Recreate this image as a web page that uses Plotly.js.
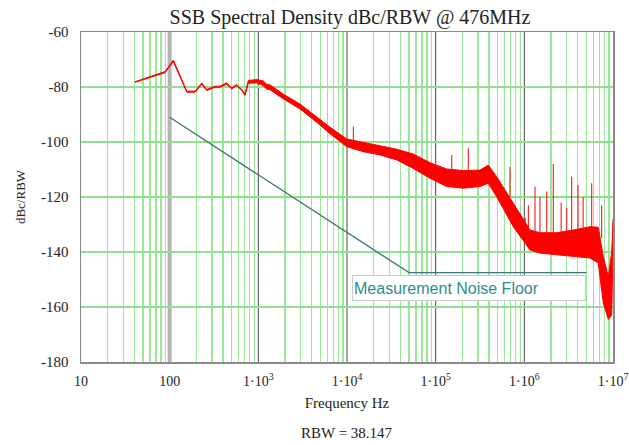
<!DOCTYPE html>
<html>
<head>
<meta charset="utf-8">
<script src="https://cdn.plot.ly/plotly-3.0.1.min.js"></script>
<style>
html,body{margin:0;padding:0;background:#fff;}
#chart{width:629px;height:445px;}
</style>
</head>
<body>
<div id="chart"></div>
<script>
// Measured phase-noise band (upper / lower envelope), Hz and dBc/RBW
const freq = [40.6, 60, 88.5, 110, 156, 193, 230, 262, 325, 370, 440, 501, 570, 649, 708, 771, 842, 959,
  1138, 1242, 1352, 1914, 2951, 4550, 6430, 9930, 15280, 23560, 36310, 55950, 86260,
  1.33e5, 2.05e5, 3.16e5, 3.92e5, 4.87e5, 7.5e5, 1.16e6, 1.5e6, 2.32e6, 3.57e6, 5.5e6,
  6.82e6, 7.78e6, 8.85e6, 9.67e6, 1e7];
const upperDb = [-78.1, -76.2, -74.4, -70.2, -81.5, -81.5, -78.5, -80.9, -79.7, -79.7, -78.5, -80.3, -79.1, -80.9, -82.5, -77.6, -77.4, -77.3,
  -77.8, -79.0, -79.2, -82.6, -86.2, -91.0, -94.6, -98.9, -100.2, -101.3, -102.6, -104.4, -107.5,
  -109.8, -110.4, -110.2, -108.4, -112.6, -122.2, -132, -133, -133, -132, -130.8,
  -131, -141.7, -149, -140, -128];
const lowerDb = [-78.3, -76.6, -74.8, -70.8, -81.9, -81.9, -79, -81.3, -80.1, -80.1, -79, -80.7, -79.5, -81.3, -83.1, -78.6, -78.5, -78.5,
  -79.5, -80.8, -81, -84.3, -88, -92.8, -97, -101.7, -103.5, -104.7, -106.5, -109.6, -113.2,
  -116.2, -116.8, -116.2, -115, -119.9, -130.8, -139.3, -140.4, -141, -141.7, -142.2,
  -144, -158.6, -164.5, -163, -140];

// Narrow spurs rising above the band
const spikeFreq = [11780, 1.52e5, 2.33e5, 6.89e5, 1.02e6, 1.11e6, 1.32e6, 1.5e6, 1.79e6, 2.12e6, 2.6e6, 3.01e6, 3.42e6, 4.03e6, 4.6e6, 5.75e6, 7.45e6];
const spikeBaseDb = [-99.5, -110, -110.2, -120, -131, -131.5, -132.5, -133, -133, -133, -132.8, -132.5, -132, -131.5, -131.2, -131, -135];
const spikeTopDb = [-94.4, -104.7, -102.2, -109, -127.6, -123, -116.2, -120, -118, -108, -122, -124, -112.6, -115.6, -120, -115, -123];

// Measurement noise floor
const floorFreq = [100, 5e4, 5e6];
const floorDb = [-91, -147.5, -147.5];

// Axis ticks
const xTickVals = [10, 100, 1e3, 1e4, 1e5, 1e6, 1e7];
const xTickText = ['10', '100', '1·10<sup>3</sup>', '1·10<sup>4</sup>', '1·10<sup>5</sup>', '1·10<sup>6</sup>', '1·10<sup>7</sup>'];
const yTickVals = [-60, -80, -100, -120, -140, -160, -180];
const yTickText = ['-60', '-80', '-100', '-120', '-140', '-160', '-180'];

const rbwText = 'RBW = 38.147';
const noteText = 'Measurement Noise Floor';

// minor grid positions (2..9 of each decade)
const minorVals = [];
for (let d = 1; d < 7; d++) for (let k = 2; k <= 9; k++) minorVals.push(k * Math.pow(10, d));

// spur segments
const sx = [], sy = [];
spikeFreq.forEach((f, i) => { sx.push(f, f, null); sy.push(spikeBaseDb[i], spikeTopDb[i], null); });

const red = '#ff0000';
const traces = [
  {x: floorFreq, y: floorDb, mode: 'lines', line: {color: '#3d7878', width: 1.4}, hoverinfo: 'skip'},
  {x: freq, y: lowerDb, mode: 'lines', line: {color: red, width: 1}, hoverinfo: 'skip'},
  {x: freq, y: upperDb, mode: 'lines', line: {color: red, width: 1}, fill: 'tonexty', fillcolor: red, hoverinfo: 'skip'},
  {x: sx, y: sy, mode: 'lines', line: {color: red, width: 1}, connectgaps: false, hoverinfo: 'skip'}
];

// decade grid lines: 100 Hz drawn wide and grey, the others thin and dark
const decadeLines = xTickVals.slice(1, -1).map(v => ({
  type: 'line', xref: 'x', yref: 'paper', x0: v, x1: v, y0: 0, y1: 1, layer: 'between',
  line: v === 100 ? {color: '#b4b4b4', width: 4} : {color: '#4a4a4a', width: 1}
}));

const serif = '"Liberation Serif", "Times New Roman", serif';
const layout = {
  width: 629, height: 445,
  margin: {l: 81, r: 16, t: 32, b: 83},
  paper_bgcolor: '#ffffff', plot_bgcolor: '#ffffff',
  showlegend: false,
  title: {text: 'SSB Spectral Density dBc/RBW @ 476MHz', font: {family: serif, size: 20, color: '#222'},
          x: 350 / 629, xref: 'container', xanchor: 'center', y: 1 - 17 / 445, yref: 'container', yanchor: 'middle'},
  xaxis: {
    type: 'log', range: [1, 7], autorange: false,
    tickvals: xTickVals, ticktext: xTickText,
    showgrid: false,
    minor: {tickvals: minorVals, showgrid: true, gridcolor: '#99e899', gridwidth: 1.5, ticks: ''},
    showline: true, linecolor: '#8a8a8a', linewidth: 1.5, mirror: true,
    ticks: '', ticklabelstandoff: 6,
    tickfont: {family: serif, size: 14, color: '#222'},
    zeroline: false,
    title: {text: 'Frequency Hz', font: {family: serif, size: 15, color: '#222'}, standoff: 9}
  },
  yaxis: {
    range: [-180, -60], autorange: false,
    tickvals: yTickVals, ticktext: yTickText,
    showgrid: true, gridcolor: '#8ee28e', gridwidth: 1.3,
    showline: true, linecolor: '#8a8a8a', linewidth: 1.5, mirror: true,
    ticks: '', ticklabelstandoff: 8,
    tickfont: {family: serif, size: 15, color: '#222'},
    zeroline: false,
    title: {text: 'dBc/RBW', font: {family: serif, size: 13, color: '#222'}, standoff: 12}
  },
  shapes: decadeLines,
  annotations: [
    {text: noteText, xref: 'x', yref: 'y', x: 4.056, y: -153.2, xanchor: 'left', yanchor: 'middle', align: 'left',
     showarrow: false, width: 230, height: 22, bgcolor: '#ffffff', bordercolor: '#cccccc', borderwidth: 1, borderpad: 1,
     font: {family: '"Liberation Sans", Arial, sans-serif', size: 16, color: '#2f8c8c'}},
    {text: rbwText, xref: 'paper', yref: 'paper', x: 0.5, y: (362 - 433) / 330, xanchor: 'center', yanchor: 'middle',
     showarrow: false, font: {family: serif, size: 15, color: '#222'}}
  ]
};

Plotly.newPlot('chart', traces, layout, {displayModeBar: false, staticPlot: true});
</script>
</body>
</html>
